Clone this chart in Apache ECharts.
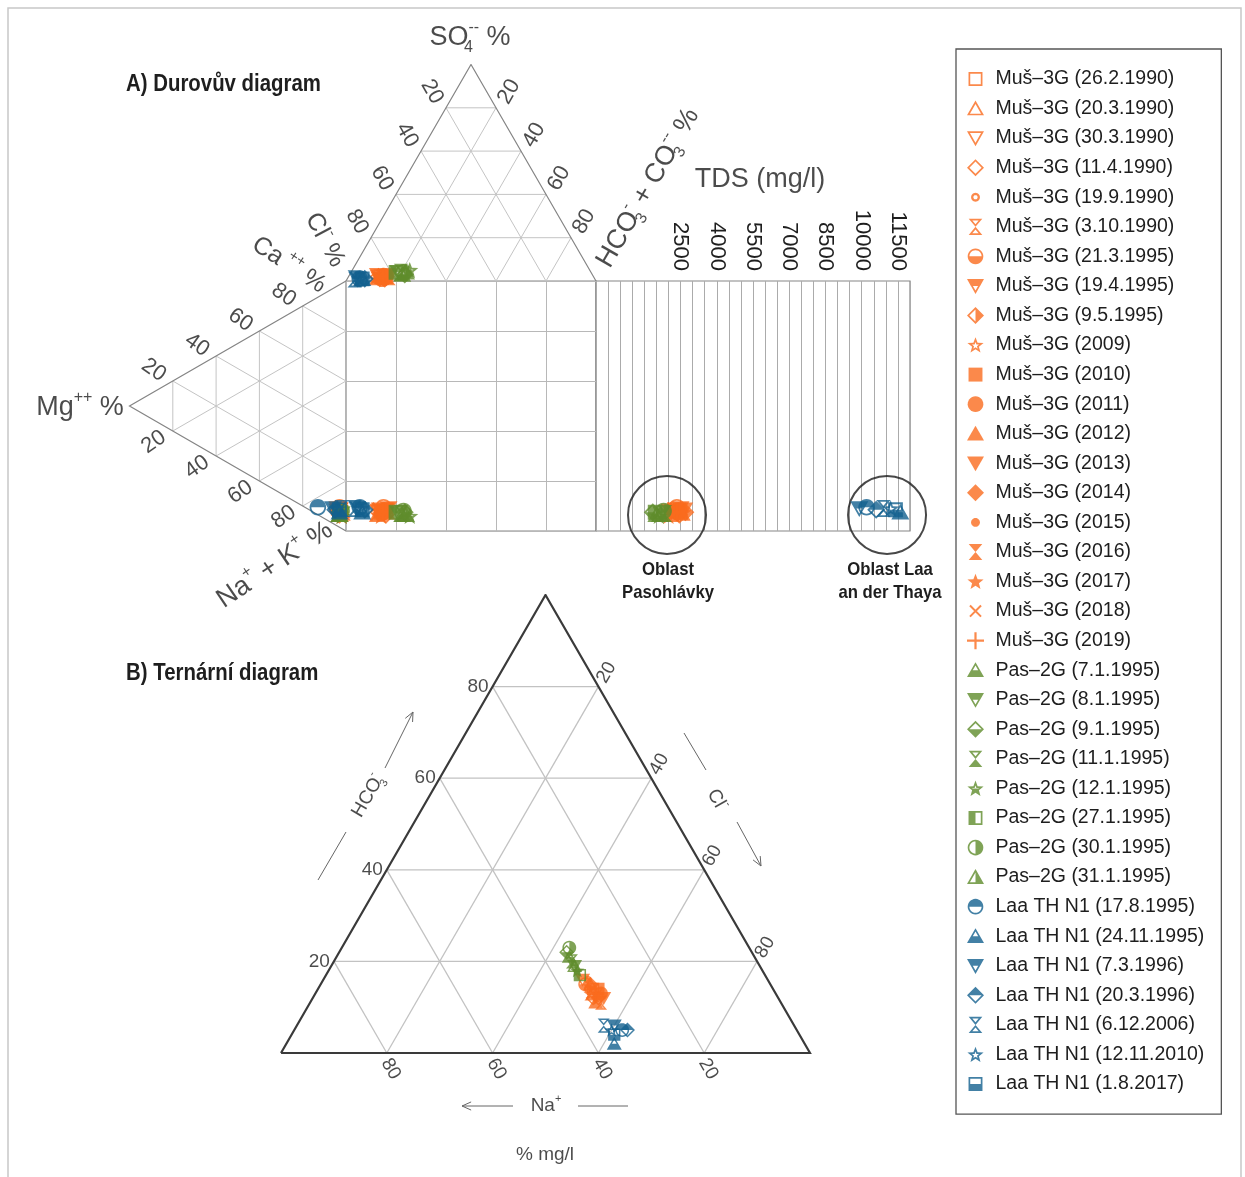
<!DOCTYPE html>
<html><head><meta charset="utf-8">
<script src="https://cdn.jsdelivr.net/npm/echarts/dist/echarts.min.js"></script>
<style>html,body{margin:0;padding:0;background:#fff}#c{width:1245px;height:1177px}</style>
</head><body><div id="c"></div>
<script>
// ---------------- DATA ----------------
const sampleNames = [
 'Muš–3G (26.2.1990)','Muš–3G (20.3.1990)','Muš–3G (30.3.1990)','Muš–3G (11.4.1990)','Muš–3G (19.9.1990)',
 'Muš–3G (3.10.1990)','Muš–3G (21.3.1995)','Muš–3G (19.4.1995)','Muš–3G (9.5.1995)','Muš–3G (2009)',
 'Muš–3G (2010)','Muš–3G (2011)','Muš–3G (2012)','Muš–3G (2013)','Muš–3G (2014)',
 'Muš–3G (2015)','Muš–3G (2016)','Muš–3G (2017)','Muš–3G (2018)','Muš–3G (2019)',
 'Pas–2G (7.1.1995)','Pas–2G (8.1.1995)','Pas–2G (9.1.1995)','Pas–2G (11.1.1995)','Pas–2G (12.1.1995)',
 'Pas–2G (27.1.1995)','Pas–2G (30.1.1995)','Pas–2G (31.1.1995)',
 'Laa TH N1 (17.8.1995)','Laa TH N1 (24.11.1995)','Laa TH N1 (7.3.1996)','Laa TH N1 (20.3.1996)',
 'Laa TH N1 (6.12.2006)','Laa TH N1 (12.11.2010)','Laa TH N1 (1.8.2017)'];
// 0 = Muš–3G, 1 = Pas–2G, 2 = Laa TH N1
const wellGroup = [0,0,0,0,0,0,0,0,0,0,0,0,0,0,0,0,0,0,0,0, 1,1,1,1,1,1,1,1, 2,2,2,2,2,2,2];
// Durov – cations (meq %)
const cationCa  = [6,7,6,5,7,6,8,7,6,5,7,6,6,7,6,5,7,6,8,6, 5,6,6,5,5,6,7,5, 3,6,6,6,8,7,7];
const cationMg  = [3,2,4,3,3,2,3,4,3,2,3,3,2,3,4,3,2,3,2,3, 3,2,3,4,2,3,2,3, 13,3,6,5,2,4,3];
const cationNaK = [91,91,90,92,90,92,89,89,91,93,90,91,92,90,90,92,91,91,90,91, 92,92,91,91,93,91,91,92, 84,91,88,89,90,89,90];
// Durov – anions (meq %)
const anionHCO3 = [13,14,12,15,13,11,14,16,12,13,15,14,12,13,15,14,16,13,12,14, 21,19,22,20,23,18,21,22, 5,6,4,7,3,5,6];
const anionCl   = [85,84,86,83,85,87,84,82,86,85,83,85,86,86,84,84,82,85,86,84, 76,77,75,76,72,78,75,74, 94,93,95,92,96,94,93];
const anionSO4  = [2,2,2,2,2,2,2,2,2,2,2,1,2,1,1,2,2,2,2,2, 3,4,3,4,5,4,4,4, 1,1,1,1,1,1,1];
// TDS (mg/l)
const tdsValues = [2150,2300,2050,2450,2600,2200,2350,2500,2700,2000,2250,2400,2550,2650,2100,2300,2450,2600,2200,2350,
                   1500,1700,1350,1850,1600,1450,1800,1650, 10200,11600,9900,10600,10900,11200,11400];
// Ternary diagram (% mg/l)
const ternHCO3 = [14,15,13,12,14,11,15,16,12,13,14,13,11,12,15,16,13,12,14,13, 21,19,22,20,18,17,23,19, 5,2,6,5,6,5,4];
const ternCl   = [52,51,53,54,51,55,50,49,53,52,53,54,54,55,51,50,52,54,52,53, 44,46,43,45,47,48,43,46, 62,62,60,63,58,60,61];
const ternNa   = [34,34,34,34,35,34,35,35,35,35,33,33,35,33,34,34,35,34,34,34, 35,35,35,35,35,35,34,35, 33,36,34,32,36,35,35];
// axis ticks
const durovTicks = [20,40,60,80];
const ternTicks = [20,40,60,80];
const tdsTickLabels = [2500,4000,5500,7000,8500,10000,11500];
// region annotation circles (TDS, cation level)
const regionTDS = [1940, 11050];
const regionLevel = [0.936, 0.936];

// ---------------- STYLES ----------------
const F = "'Liberation Sans', Arial, Helvetica, sans-serif";
const TXT = '#1e1e1e';
const COLORS = ['#fa6b1e', '#5f8c2c', '#13608f'];
const markerStyles = [
 'square:hollow','tri:hollow','itri:hollow','diamond:hollow','dot:hollow','hour:hollow','circle:half:bottom','itri:half:top','diamond:half:right','star:hollow',
 'square:fill','circle:fill','tri:fill','itri:fill','diamond:fill','dot:fill','hour:fill','star:fill','cross:fill','plus:fill',
 'tri:half:bottom','itri:half:top','diamond:half:bottom','hour:half:bottom','star:half:bottom','square:half:left','circle:half:right','tri:half:right',
 'circle:half:top','tri:half:bottom','itri:half:top','diamond:half:top','hour:hollow','star:hollow','square:half:bottom'];

function circlePts(r){const p=[];for(let i=0;i<28;i++){const a=i/28*2*Math.PI;p.push([r*Math.cos(a),r*Math.sin(a)]);}return p;}
function starPts(){const p=[];for(let i=0;i<10;i++){const a=-Math.PI/2+i*Math.PI/5;const r=i%2?0.42:1;p.push([r*Math.cos(a),r*Math.sin(a)+0.08]);}return p;}
function rot45(p){const c=Math.SQRT1_2;return p.map(q=>[(q[0]-q[1])*c*1.15,(q[0]+q[1])*c*1.15]);}
const plusBars=[[[-1,-0.13],[1,-0.13],[1,0.13],[-1,0.13]],[[-0.13,-1],[0.13,-1],[0.13,1],[-0.13,1]]];
const SHAPES={
  square:[[[-0.82,-0.82],[0.82,-0.82],[0.82,0.82],[-0.82,0.82]]],
  circle:[circlePts(0.92)],
  dot:[circlePts(0.52)],
  tri:[[[0,-0.95],[1,0.8],[-1,0.8]]],
  itri:[[[-1,-0.8],[1,-0.8],[0,0.95]]],
  diamond:[[[0,-1],[1,0],[0,1],[-1,0]]],
  hour:[[[-0.8,-0.95],[0.8,-0.95],[0,0]],[[0,0],[0.8,0.95],[-0.8,0.95]]],
  star:[starPts()],
  plus:plusBars,
  cross:plusBars.map(p=>rot45(p).map(q=>[q[0]*0.8,q[1]*0.8]))
};
const DIRS={top:[0,-1],bottom:[0,1],left:[-1,0],right:[1,0]};
function area(p){let s=0;for(let i=0;i<p.length;i++){const a=p[i],b=p[(i+1)%p.length];s+=a[0]*b[1]-b[0]*a[1];}return s/2;}
function orient(p){return area(p)>0?p:p.slice().reverse();}
function nrm(a,b){const dx=b[0]-a[0],dy=b[1]-a[1],L=Math.hypot(dx,dy);return[-dy/L,dx/L];}
function inset(p,t){const n=p.length,o=[];for(let i=0;i<n;i++){const a=p[(i-1+n)%n],b=p[i],c=p[(i+1)%n];const n1=nrm(a,b),n2=nrm(b,c);const d=1+n1[0]*n2[0]+n1[1]*n2[1];o.push([b[0]+t*(n1[0]+n2[0])/d,b[1]+t*(n1[1]+n2[1])/d]);}return o;}
function clip(p,dir){const o=[],n=p.length;for(let i=0;i<n;i++){const a=p[i],b=p[(i+1)%n];const fa=a[0]*dir[0]+a[1]*dir[1],fb=b[0]*dir[0]+b[1]*dir[1];if(fa>=0)o.push(a);if((fa>=0)!==(fb>=0)){const t=fa/(fa-fb);o.push([a[0]+t*(b[0]-a[0]),a[1]+t*(b[1]-a[1])]);}}return o;}
function sub(p){return 'M'+p.map(q=>q[0].toFixed(3)+','+q[1].toFixed(3)).join('L')+'Z';}
function makeSymbol(spec){
  const [shape,mode,side]=spec.split(':');
  const polys=SHAPES[shape].map(orient);
  const t=shape==='dot'?0.27:0.2;
  let d='M-1,-1M1,1';
  polys.forEach(p=>{
    if(mode==='fill'){d+=sub(p);}
    else{d+=sub(p)+sub(inset(p,t).reverse());
      if(mode==='half'){const c=clip(p,DIRS[side]);if(c.length>=3)d+=sub(c);}}
  });
  return 'path://'+d;
}

// ---------------- GEOMETRY HELPERS ----------------
function linesSeries(ai,segs,color,width,z){
  return {type:'lines',coordinateSystem:'cartesian2d',xAxisIndex:ai,yAxisIndex:ai,polyline:true,silent:true,z:z||1,
    animation:false,lineStyle:{color:color,width:width,opacity:1,type:'solid'},data:segs.map(s=>({coords:s}))};
}
// label offsets are applied in the rotated frame: convert a wanted screen offset
function screenOffset(D,deg){const r=(deg||0)*Math.PI/180,c=Math.cos(r),s=Math.sin(r);return [c*D[0]-s*D[1], s*D[0]+c*D[1]];}
function labelSeries(ai,pts,texts,o){
  return {type:'scatter',xAxisIndex:ai,yAxisIndex:ai,symbol:'circle',symbolSize:1,silent:true,z:8,animation:false,
    itemStyle:{color:'rgba(0,0,0,0)'},emphasis:{disabled:true},
    label:{show:true,position:'inside',offset:screenOffset(o.offset||[0,0],o.rotate),rotate:o.rotate||0,align:o.align||'center',verticalAlign:'middle',
      fontSize:o.fs,color:TXT,fontFamily:F,lineHeight:o.lh,textBorderWidth:0,textBorderColor:'rgba(0,0,0,0)',
      rich:o.rich,formatter:p=>texts[p.dataIndex]},
    data:pts};
}
function chemRich(fs){const s=Math.round(fs*0.6);const nb={textBorderWidth:0,textBorderColor:'rgba(0,0,0,0)',color:TXT,fontFamily:F};return{
  b:Object.assign({fontSize:fs,lineHeight:Math.round(fs*1.35),verticalAlign:'middle'},nb),
  d:Object.assign({fontSize:s,lineHeight:s,verticalAlign:'bottom',width:0,align:'left'},nb),
  u:Object.assign({fontSize:s,lineHeight:s,verticalAlign:'top'},nb)};}

const K = durovTicks.map(v=>v/100);
const KT = ternTicks.map(v=>v/100);
const series = [];

// anion triangle (axis 0): x = HCO3 + SO4/2, y = SO4
series.push(linesSeries(0,[].concat(
  K.map(k=>[[k/2,k],[1-k/2,k]]),
  K.map(k=>[[1-k,0],[(1-k)/2,1-k]]),
  K.map(k=>[[k,0],[k+(1-k)/2,1-k]])),'#c4c4c4',1));
series.push(linesSeries(0,[[[0,0],[0.5,1],[1,0]]],'#858585',1.2,2));
// cation triangle (axis 1): x = Mg, y = Na + Mg/2
series.push(linesSeries(1,[].concat(
  K.map(k=>[[k,k/2],[k,1-k/2]]),
  K.map(k=>[[0,1-k],[1-k,(1-k)/2]]),
  K.map(k=>[[0,k],[1-k,k+(1-k)/2]])),'#c4c4c4',1));
series.push(linesSeries(1,[[[0,0],[1,0.5],[0,1]]],'#858585',1.2,2));
// ternary (axis 4): x = Cl + HCO3/2, y = HCO3
series.push(linesSeries(4,[].concat(
  KT.map(k=>[[k/2,k],[1-k/2,k]]),
  KT.map(k=>[[k,0],[k+(1-k)/2,1-k]]),
  KT.map(k=>[[1-k,0],[(1-k)/2,1-k]])),'#c2c2c2',1.3));
series.push(linesSeries(4,[[[0,0],[1,0],[0.5,1],[0,0]]],'#3a3a3a',2.2,2));

// tick labels
series.push(labelSeries(0,K.map(k=>[(1-k)/2,1-k]),durovTicks.map(String),{fs:22,rotate:-60,offset:[-14,-16]}));
series.push(labelSeries(0,K.map(k=>[(1+k)/2,1-k]),durovTicks.map(String),{fs:22,rotate:60,offset:[13,-16]}));
series.push(labelSeries(1,K.map(k=>[1-k,(1-k)/2]),durovTicks.map(String),{fs:22,rotate:-35,offset:[-19,-11]}));
series.push(labelSeries(1,K.map(k=>[1-k,k+(1-k)/2]),durovTicks.map(String),{fs:22,rotate:35,offset:[-19,11]}));
series.push(labelSeries(4,KT.map(k=>[k/2,k]),ternTicks.map(String),{fs:19,align:'right',offset:[-4,0]}));
series.push(labelSeries(4,KT.map(k=>[(1+k)/2,1-k]),ternTicks.map(String),{fs:19,rotate:60,offset:[8,-14]}));
series.push(labelSeries(4,KT.map(k=>[1-k,0]),ternTicks.map(String),{fs:19,rotate:-60,offset:[4,16]}));

// axis titles (pixel frame, axis 5)
const titleTexts = [
  {p:[470,38],t:'{b|SO}{d|4}{u|--}{b| %}',r:0,fs:27},
  {p:[80,408],t:'{b|Mg}{u|++}{b| %}',r:0,fs:27},
  {p:[289,265],t:'{b|Ca}{u| ++}{b| %}',r:-33,fs:25},
  {p:[325,240],t:'{b|Cl}{u|-}{b| %}',r:-62,fs:25},
  {p:[275,565],t:'{b|Na}{u|+}{b| + K}{u|+}{b| %}',r:34,fs:27},
  {p:[648,188],t:'{b|HCO}{d|3}{u|-}{b| + CO}{d|3}{u|--}{b| %}',r:60,fs:27},
  {p:[760,180],t:'{b|TDS (mg/l)}',r:0,fs:27},
  {p:[368,796],t:'{b|HCO}{d|3}{u|-}',r:60,fs:19},
  {p:[717,800],t:'{b|Cl}{u|-}',r:-60,fs:19},
  {p:[546,1106],t:'{b|Na}{u|+}',r:0,fs:19},
  {p:[545,1155],t:'{b|% mg/l}',r:0,fs:19}
];
titleTexts.forEach(o=>series.push(labelSeries(5,[o.p],[o.t],{fs:o.fs,rotate:o.r,rich:chemRich(o.fs)})));

// region circles in TDS panel
series.push({type:'scatter',xAxisIndex:3,yAxisIndex:3,symbol:'circle',symbolSize:78,silent:true,z:4,animation:false,
  itemStyle:{color:'rgba(0,0,0,0)',borderColor:'#1a1a1a',borderWidth:2},emphasis:{disabled:true},
  data:regionTDS.map((v,i)=>[v,regionLevel[i]])});

// samples
for(let i=0;i<sampleNames.length;i++){
  const base={type:'scatter',name:sampleNames[i],symbol:makeSymbol(markerStyles[i]),silent:true,z:5,animation:false,
    itemStyle:{color:COLORS[wellGroup[i]]},emphasis:{disabled:true}};
  const xAn=anionHCO3[i]/100+anionSO4[i]/200;
  const yCat=cationNaK[i]/100+cationMg[i]/200;
  series.push(Object.assign({},base,{xAxisIndex:2,yAxisIndex:2,symbolSize:18,data:[[xAn,yCat]]}));
  series.push(Object.assign({},base,{xAxisIndex:0,yAxisIndex:0,symbolSize:18,data:[[xAn,anionSO4[i]/100]]}));
  series.push(Object.assign({},base,{xAxisIndex:1,yAxisIndex:1,symbolSize:18,data:[[cationMg[i]/100,yCat]]}));
  series.push(Object.assign({},base,{xAxisIndex:3,yAxisIndex:3,symbolSize:18,data:[[tdsValues[i],yCat]]}));
  series.push(Object.assign({},base,{xAxisIndex:4,yAxisIndex:4,symbolSize:15,data:[[ternCl[i]/100+ternHCO3[i]/200,ternHCO3[i]/100]]}));
}

// ---------------- AXES / GRIDS ----------------
const G=(o)=>Object.assign({containLabel:false,outerBoundsMode:'none'},o);
const grids=[
  G({left:346,top:64.5,width:250,height:216.5}),
  G({left:129.5,top:281,width:216.5,height:250}),
  G({left:346,top:281,width:250,height:250,show:true,borderColor:'#858585',borderWidth:1.2,backgroundColor:'rgba(0,0,0,0)'}),
  G({left:596,top:281,width:314,height:250,show:true,borderColor:'#858585',borderWidth:1.2,backgroundColor:'rgba(0,0,0,0)'}),
  G({left:281,top:595,width:529,height:458}),
  G({left:0,top:0,width:1245,height:1177})
];
const hid=(gi,min,max,inv)=>({gridIndex:gi,type:'value',min:min,max:max,inverse:!!inv,show:false});
const sqAx=(inv)=>({gridIndex:2,type:'value',min:0,max:1,interval:0.2,inverse:!!inv,
  axisLine:{show:false},axisTick:{show:false},axisLabel:{show:false},
  splitLine:{show:true,lineStyle:{color:'#b8b8b8',width:1}}});
const xAxes=[hid(0,0,1),hid(1,0,1,true),sqAx(false),
  {gridIndex:3,type:'value',min:-1000,max:12000,interval:500,position:'top',
   axisLine:{show:false},axisTick:{show:false},
   splitLine:{show:true,lineStyle:{color:'#ababab',width:1}},
   axisLabel:{show:true,rotate:-90,margin:10,fontSize:22,color:TXT,fontFamily:F,
     formatter:v=>tdsTickLabels.indexOf(v)>=0?String(v):''}},
  hid(4,0,1),hid(5,0,1245)];
const yAxes=[hid(0,0,1),hid(1,0,1,true),sqAx(true),hid(3,0,1,true),hid(4,0,1),hid(5,0,1177,true)];

// ---------------- GRAPHIC DECORATIONS ----------------
function arrowEls(from,to,head){
  const st={stroke:'#666',lineWidth:1,fill:null};
  const els=[{type:'polyline',shape:{points:[from,to]},style:st,silent:true}];
  if(head){const dx=to[0]-from[0],dy=to[1]-from[1],L=Math.hypot(dx,dy),ux=dx/L,uy=dy/L,a=0.42,h=10;
    const p1=[to[0]-h*(ux*Math.cos(a)-uy*Math.sin(a)),to[1]-h*(uy*Math.cos(a)+ux*Math.sin(a))];
    const p2=[to[0]-h*(ux*Math.cos(a)+uy*Math.sin(a)),to[1]-h*(uy*Math.cos(a)-ux*Math.sin(a))];
    els.push({type:'polyline',shape:{points:[p1,to,p2]},style:st,silent:true});}
  return els;
}
function boldText(text,x,y,align,sx,fs,lh){
  return {type:'text',x:x,y:y,scaleX:sx,silent:true,
    style:{text:text,fill:TXT,font:'bold '+fs+'px '+F,textAlign:align,textVerticalAlign:'top',lineHeight:lh}};
}
const graphicEls=[
  {type:'rect',shape:{x:8,y:8,width:1233,height:1180},style:{fill:null,stroke:'#c8c8c8',lineWidth:1.5},silent:true},
  boldText('A) Durovův diagram',126,70,'left',0.85,24,28),
  boldText('B) Ternární diagram',126,659,'left',0.85,24,28),
  boldText('Oblast\nPasohlávky',668,558,'center',0.88,19,23),
  boldText('Oblast Laa\nan der Thaya',890,558,'center',0.88,19,23)
].concat(
  arrowEls([318,880],[346,832],false),arrowEls([385,768],[413,712],true),
  arrowEls([684,733],[706,770],false),arrowEls([737,822],[761,866],true),
  arrowEls([513,1106],[462,1106],true),arrowEls([578,1106],[628,1106],false)
);

const chart=echarts.init(document.getElementById('c'),null,{renderer:'canvas'});
chart.setOption({
  animation:false,
  backgroundColor:'#fff',
  grid:grids,xAxis:xAxes,yAxis:yAxes,
  legend:{data:sampleNames,orient:'vertical',left:956,top:49,padding:[20,17,20,11],
    itemGap:9.56,itemWidth:30,itemHeight:17,borderColor:'#555',borderWidth:1.3,backgroundColor:'#fff',
    selectedMode:false,textStyle:{fontSize:19.5,color:TXT,fontFamily:F}},
  graphic:{elements:graphicEls},
  series:series
});
</script></body></html>
